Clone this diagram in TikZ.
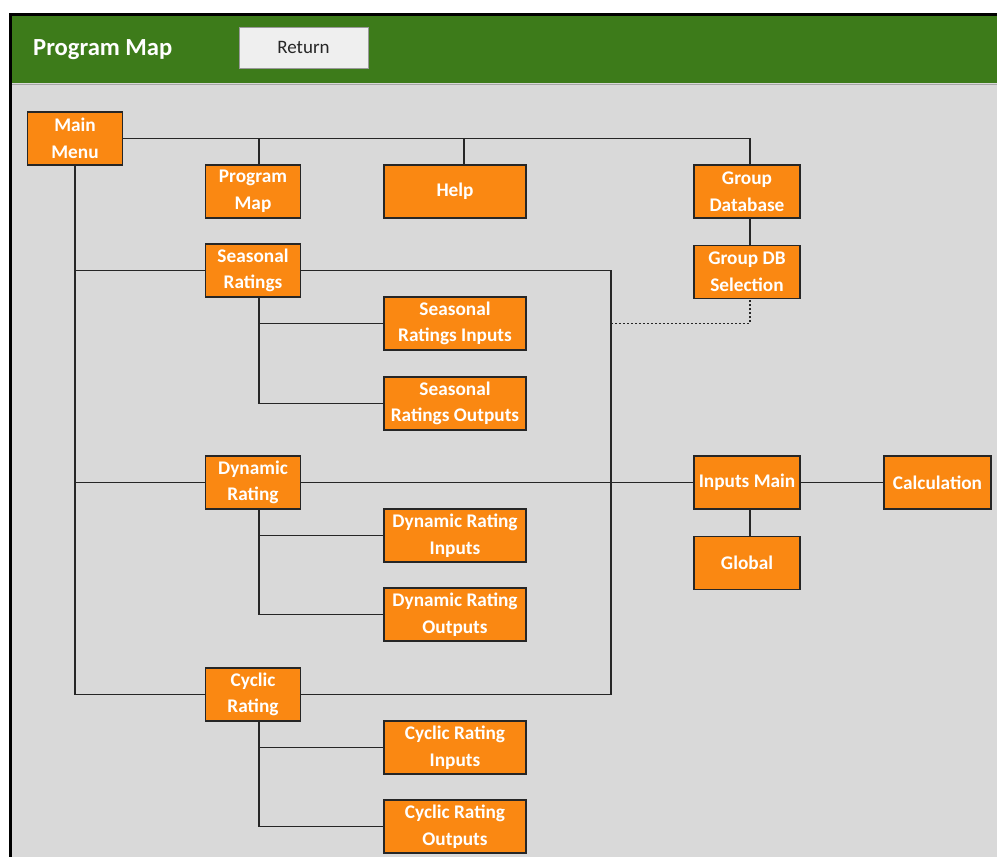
\documentclass[tikz,border=0pt]{standalone}
\usepackage{fontspec}
\setmainfont{Carlito}
\usepackage{tikz}
\usetikzlibrary{positioning, calc}
\definecolor{headerBg}{RGB}{61, 123, 26}
\definecolor{sheetBg}{RGB}{217, 217, 217}
\definecolor{orangeBoxBg}{RGB}{250, 136, 18}
\definecolor{boxLine}{RGB}{38, 38, 38}
\definecolor{buttonBg}{RGB}{239, 239, 239}
\tikzstyle{line} = [line width=1.4pt, draw=boxLine]
\tikzstyle{dotline} = [line width=1.4pt, draw=boxLine, dash pattern=on 2pt off 2pt]
\tikzstyle{basic} = [rectangle, minimum height=53pt, inner sep=0pt, align=center, line width=1.3pt, draw=boxLine, fill=orangeBoxBg, text=white, font=\fontsize{19.3}{26.5}\selectfont\bfseries]
\tikzstyle{narrowbox} = [minimum width=95pt]
\tikzstyle{midbox} = [minimum width=106pt]
\tikzstyle{widebox} = [minimum width=142pt]
\begin{document}
\begin{tikzpicture}[x=1pt, y=-1pt]
\useasboundingbox (0,0) rectangle (997,857);
\fill[white] (0,0) rectangle (997,857);
\fill[sheetBg] (11,15) rectangle (997,857);
\fill[headerBg] (11,15) rectangle (997,83);
\draw[line width=1.5pt, draw=black!35] (11,84.5) -- (997,84.5);
\draw[line width=2.6pt, draw=black] (10.7,857) -- (10.7,14.5) -- (997,14.5);

\node (title) [anchor=west, inner sep=0pt, text=white, font=\fontsize{24.6}{24.6}\selectfont\bfseries] at (33,50) {Program Map};
\node (return) [rectangle, draw=black!40, fill=buttonBg, minimum width=129pt, minimum height=41pt, inner sep=0pt, text=black!85, font=\fontsize{19}{19}\selectfont] at (303.5,47.5) {Return};

\node (mainMenu) [basic, narrowbox] at (75,138.5) {Main\\Menu};
\node (progMap) [basic, narrowbox] at (253,191.5) {Program\\Map};
\node (help) [basic, widebox] at (455,191.5) {Help};
\node (groupDb) [basic, midbox] at (747,191.5) {Group\\Database};
\node (groupSel) [basic, midbox, below=26pt of groupDb] {Group DB\\Selection};

\node (seasonal) [basic, narrowbox] at (253,270.5) {Seasonal\\Ratings};
\node (seasIn) [basic, widebox] at (455,323.5) {Seasonal\\Ratings Inputs};
\node (seasOut) [basic, widebox] at (455,403.5) {Seasonal\\Ratings Outputs};

\node (dynamic) [basic, narrowbox] at (253,482.5) {Dynamic\\Rating};
\node (dynIn) [basic, widebox] at (455,535.5) {Dynamic Rating\\Inputs};
\node (dynOut) [basic, widebox] at (455,614.5) {Dynamic Rating\\Outputs};

\node (cyclic) [basic, narrowbox] at (253,694.5) {Cyclic\\Rating};
\node (cycIn) [basic, widebox] at (455,747.5) {Cyclic Rating\\Inputs};
\node (cycOut) [basic, widebox] at (455,826.5) {Cyclic Rating\\Outputs};

\node (inMain) [basic, midbox] at (747,482.5) {Inputs Main};
\node (global) [basic, midbox, below=26pt of inMain] {Global};
\node (calcBox) [basic, minimum width=107pt] at (937.5,482.5) {Calculation};

% taps where the connectors meet the boxes
\coordinate (pmTap) at ($(progMap.north)+(6,0)$);
\coordinate (helpTap) at ($(help.north)+(9,0)$);
\coordinate (gdbTap) at ($(groupDb.north)+(3,0)$);
\coordinate (seasTap) at ($(seasonal.south)+(6,0)$);
\coordinate (dynTap) at ($(dynamic.south)+(6,0)$);
\coordinate (cycTap) at ($(cyclic.south)+(6,0)$);
\coordinate (busTop) at ($(seasonal.east)+(310,0)$);
\coordinate (busBot) at (busTop |- cyclic.east);

\draw [line] (mainMenu.east) -- (gdbTap |- mainMenu.east) -- (gdbTap);
\draw [line] (pmTap |- mainMenu.east) -- (pmTap);
\draw [line] (helpTap |- mainMenu.east) -- (helpTap);
\draw [line] (gdbTap |- groupDb.south) -- (gdbTap |- groupSel.north);

\draw [line] (mainMenu.south) -- (mainMenu.south |- cyclic.west) -- (cyclic.west);
\draw [line] (mainMenu.south |- seasonal.west) -- (seasonal.west);
\draw [line] (mainMenu.south |- dynamic.west) -- (dynamic.west);

\draw [line] (seasTap) -- (seasTap |- seasOut.west) -- (seasOut.west);
\draw [line] (seasTap |- seasIn.west) -- (seasIn.west);
\draw [line] (dynTap) -- (dynTap |- dynOut.west) -- (dynOut.west);
\draw [line] (dynTap |- dynIn.west) -- (dynIn.west);
\draw [line] (cycTap) -- (cycTap |- cycOut.west) -- (cycOut.west);
\draw [line] (cycTap |- cycIn.west) -- (cycIn.west);

\draw [line] (seasonal.east) -- (busTop) -- (busBot) -- (cyclic.east);
\draw [line] (dynamic.east) -- (inMain.west);
\draw [dotline] (busTop |- seasIn.east) -- (gdbTap |- seasIn.east) -- (gdbTap |- groupSel.south);

\draw [line] (inMain.east) -- (calcBox.west);
\draw [line] ($(inMain.south)+(3,0)$) -- ($(global.north)+(3,0)$);

\end{tikzpicture}
\end{document}
